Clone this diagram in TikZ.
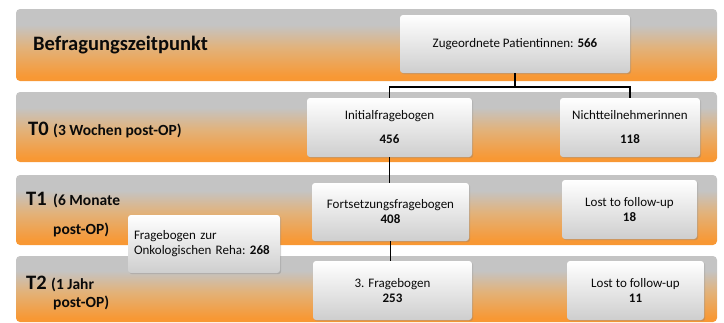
\documentclass[tikz,border=0pt]{standalone}
\usepackage{fontspec}
\setmainfont{Carlito}
\usetikzlibrary{shadows}
\definecolor{bgr}{RGB}{196,196,196}
\definecolor{bmid}{RGB}{226,178,122}
\definecolor{bor}{RGB}{248,152,52}
\definecolor{boxbot}{RGB}{206,206,206}
\definecolor{txt}{RGB}{10,10,10}
\pgfdeclareverticalshading{bandshade}{100bp}{color(0bp)=(bor); color(28bp)=(bor); color(48bp)=(bmid); color(64bp)=(bgr); color(100bp)=(bgr)}
\tikzset{
  band/.style={shading=bandshade, rounded corners=4pt},
  fbox/.style={draw=none, rounded corners=3pt, top color=white, bottom color=boxbot,
    drop shadow={shadow xshift=1.2pt, shadow yshift=-1.2pt, opacity=0.35},
    inner sep=0pt, align=center, text=txt, font=\fontsize{13}{15}\selectfont},
  rowbig/.style={anchor=base west, inner sep=0pt, text=txt, font=\fontsize{20.5}{22}\selectfont\bfseries},
  rowsmall/.style={anchor=base west, inner sep=0pt, text=txt, font=\fontsize{15.5}{17}\selectfont\bfseries},
  conn/.style={draw=black, line width=1.4pt}
}
\begin{document}
\begin{tikzpicture}[x=1pt,y=-1pt]
\useasboundingbox (0,0) rectangle (724,322);
% bands
\shade[band] (16,9) rectangle (717,81);
\shade[band] (16,92) rectangle (717,162);
\shade[band] (16,175) rectangle (717,245);
\shade[band] (16,256) rectangle (717,322);
% row labels
\node[rowbig] (lab0) at (33,50) {Befragungszeitpunkt};
\node[rowbig] (lab1) at (28,135) {T0};
\node[rowsmall] (lab1b) at (53,135) {(3 Wochen post-OP)};
\node[rowbig] (lab2) at (26,205) {T1};
\node[rowsmall] (lab2b) at (53,205) {(6 Monate};
\node[rowsmall] (lab2c) at (53,234) {post-OP)};
\node[rowbig] (lab3) at (26,289) {T2};
\node[rowsmall] (lab3b) at (51,289) {(1 Jahr};
\node[rowsmall] (lab3c) at (53,307) {post-OP)};
% boxes
\node[fbox, minimum width=230pt, minimum height=58pt] (z) at (515,44) {Zugeordnete Patientinnen: \textbf{566}};
\node[fbox, minimum width=165pt, minimum height=59pt] (i) at (389.5,127.5) {Initialfragebogen\\[9pt]\textbf{456}};
\node[fbox, minimum width=140pt, minimum height=59pt] (n) at (630,127.5) {Nichtteilnehmerinnen\\[9pt]\textbf{118}};
\node[fbox, minimum width=157pt, minimum height=58pt] (f) at (390.5,212) {Fortsetzungsfragebogen\\\textbf{408}};
\node[fbox, minimum width=135pt, minimum height=59pt] (l1) at (629.5,209.5) {Lost to follow-up\\\textbf{18}};
\node[fbox, minimum width=159pt, minimum height=59pt] (d) at (392.5,290.5) {3. Fragebogen\\\textbf{253}};
\node[fbox, minimum width=137pt, minimum height=59pt] (l2) at (635.5,290.5) {Lost to follow-up\\\textbf{11}};
\node[fbox, minimum width=152pt, minimum height=58pt, align=left, text width=140pt] (r) at (204,244) {Fragebogen zur\\Onkologischen Reha:~\textbf{268}};
% connectors
\coordinate (j) at (515,87);
\draw[conn] (z.south) -- (j);
\draw[conn] (i.north) |- (j) -| (n.north);
\draw[conn] (i.south) -- (i.south |- f.north);
\draw[conn] (f.south) -- (f.south |- d.north);
\end{tikzpicture}
\end{document}
